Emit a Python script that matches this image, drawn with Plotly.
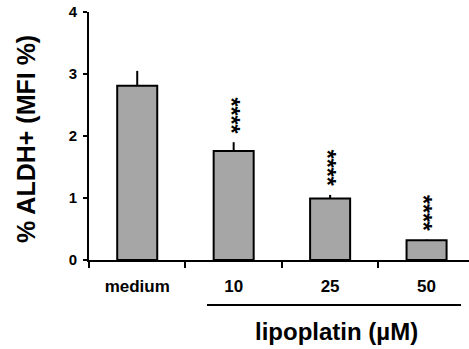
import plotly.graph_objects as go

categories = ["medium", "10", "25", "50"]
values = [2.81, 1.76, 0.99, 0.32]
errors = [0.24, 0.14, 0.06, 0.01]
significance = ["", "****", "****", "****"]
y_ticks = [0, 1, 2, 3, 4]

FONT = "Arial, Liberation Sans, sans-serif"

fig = go.Figure()
fig.add_trace(go.Bar(
    x=categories, y=values, width=0.415,
    marker=dict(color="#a6a6a6", line=dict(color="black", width=2)),
    error_y=dict(type="data", array=errors, arrayminus=[0] * len(errors),
                 symmetric=False, color="black", thickness=2, width=0),
))

for i, (v, e, s) in enumerate(zip(values, errors, significance)):
    if s:
        fig.add_annotation(x=i, y=v + e, xref="x", yref="y", text=s,
                           showarrow=False, textangle=90,
                           xanchor="center", yanchor="bottom",
                           yshift=7, xshift=-3,
                           font=dict(family=FONT, size=23, color="black",
                                     weight="bold"))

fig.add_shape(type="line", xref="paper", yref="paper",
              x0=0.3105, x1=0.979, y0=-0.1815, y1=-0.1815,
              line=dict(color="black", width=2))
fig.add_annotation(xref="paper", yref="paper", x=0.651, y=-0.287,
                   text="lipoplatin (µM)", showarrow=False,
                   xanchor="center", yanchor="middle",
                   font=dict(family=FONT, size=24, color="black", weight="bold"))
fig.add_annotation(xref="paper", yref="paper", x=-0.166, y=0.488,
                   text="% ALDH+ (MFI %)", showarrow=False, textangle=-90,
                   xanchor="center", yanchor="middle",
                   font=dict(family=FONT, size=25, color="black", weight="bold"))

fig.update_layout(
    width=469, height=349,
    margin=dict(l=89, r=0, t=12, b=89),
    paper_bgcolor="white", plot_bgcolor="white",
    showlegend=False,
    font=dict(family=FONT, color="black"),
    xaxis=dict(
        type="category", range=[-0.5, 3.44], automargin=False,
        showline=True, linecolor="black", linewidth=2,
        ticks="outside", tickson="boundaries", ticklen=6, tickwidth=2,
        tickcolor="black", showgrid=False, zeroline=False,
        tickfont=dict(family=FONT, size=17, color="black", weight="bold"),
        ticklabelstandoff=10, ticklabeloverflow="allow",
    ),
    yaxis=dict(
        range=[0, 4], tickvals=y_ticks, automargin=False,
        showline=True, linecolor="black", linewidth=2,
        ticks="outside", ticklen=4, tickwidth=2, tickcolor="black",
        showgrid=False, zeroline=False,
        tickfont=dict(family=FONT, size=15, color="black", weight="bold"),
        ticklabelstandoff=3, ticklabeloverflow="allow",
    ),
)

# remove the browser's default 8px page margin so the figure fills the window
fig.write_html("out.html",
               config={"displayModeBar": False, "staticPlot": True},
               post_script="document.body.style.margin='0';"
                           "document.body.style.overflow='hidden';")
